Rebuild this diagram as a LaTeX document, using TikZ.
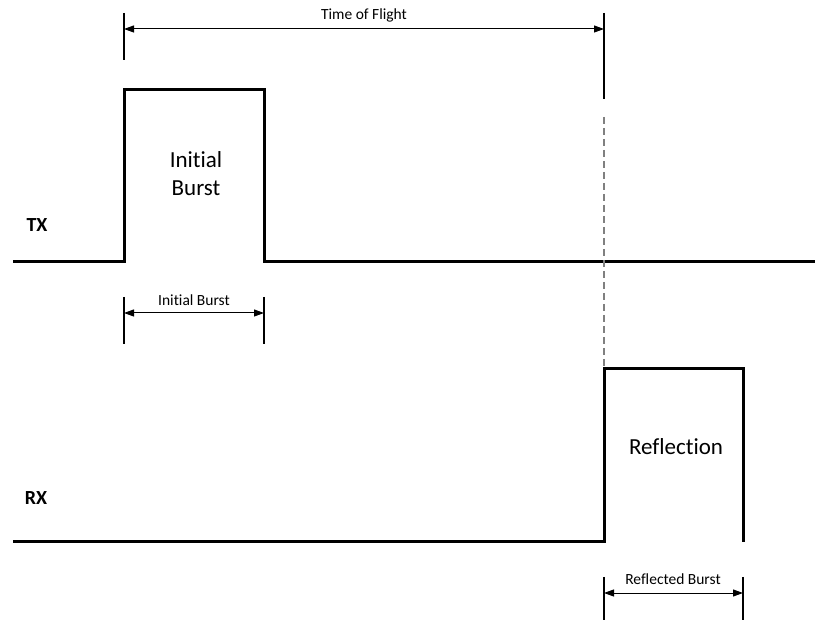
\documentclass[tikz,border=0pt]{standalone}
\usepackage{fontspec}
\setmainfont{Carlito}[RawFeature={-liga;-clig;-dlig}]
\usetikzlibrary{arrows.meta}
\begin{document}
\begin{tikzpicture}[x=1pt,y=-1pt,
  sig/.style={line width=3pt, line join=miter},
  tickline/.style={line width=2pt},
  dimline/.style={line width=1pt, {Triangle[length=10pt,width=7pt]}-{Triangle[length=10pt,width=7pt]}},
  guide/.style={line width=2pt, draw={rgb,255:red,128;green,128;blue,128}, dash pattern=on 7pt off 4pt},
  chan/.style={font=\fontsize{20}{24}\selectfont\bfseries, inner sep=0pt},
  big/.style={font=\fontsize{23}{28}\selectfont, align=center, inner sep=0pt},
  small/.style={font=\fontsize{15.5}{18}\selectfont, inner sep=0pt}]
\useasboundingbox (0,0) rectangle (815,620);
% TX signal
\coordinate (tx0) at (13,262);
\coordinate (tx1) at (124,262);
\coordinate (tx2) at (124,90);
\coordinate (tx3) at (264,90);
\coordinate (tx4) at (264,262);
\coordinate (tx5) at (815,262);
\draw[sig] (tx0) -- (tx1) -- (tx2) -- (tx3) -- (tx4) -- (tx5);
% RX signal
\coordinate (rx0) at (13,542);
\coordinate (rx1) at (604,542);
\coordinate (rx2) at (604,369);
\coordinate (rx3) at (743,369);
\coordinate (rx4) at (743,542);
\draw[sig] (rx0) -- (rx1) -- (rx2) -- (rx3) -- (rx4);
% guide
\coordinate (g0) at (604,117);
\draw[guide] (g0) -- (rx2);
% Time of flight dimension
\coordinate (tofLa) at (124,13);
\coordinate (tofLb) at (124,60);
\coordinate (tofRa) at (604,13);
\coordinate (tofRb) at (604,99);
\draw[tickline] (tofLa) -- (tofLb);
\draw[tickline] (tofRa) -- (tofRb);
\coordinate (tofA) at (124,29);
\coordinate (tofB) at (604,29);
\draw[dimline] (tofA) -- (tofB);
\node[small] (toflabel) at (364,15) {Time of Flight};
% Initial burst dimension
\coordinate (ibLa) at (124,297);
\coordinate (ibLb) at (124,344);
\coordinate (ibRa) at (264,297);
\coordinate (ibRb) at (264,344);
\draw[tickline] (ibLa) -- (ibLb);
\draw[tickline] (ibRa) -- (ibRb);
\coordinate (ibA) at (124,313);
\coordinate (ibB) at (264,313);
\draw[dimline] (ibA) -- (ibB);
\node[small] (iblabel) at (194,300) {Initial Burst};
% Reflected burst dimension
\coordinate (rbLa) at (604,577);
\coordinate (rbLb) at (604,622);
\coordinate (rbRa) at (743,577);
\coordinate (rbRb) at (743,622);
\draw[tickline] (rbLa) -- (rbLb);
\draw[tickline] (rbRa) -- (rbRb);
\coordinate (rbA) at (604,593);
\coordinate (rbB) at (743,593);
\draw[dimline] (rbA) -- (rbB);
\node[small] (rblabel) at (673,579) {Reflected Burst};
% labels
\node[chan] (tx) at (37,225) {TX};
\node[chan] (rx) at (36,498) {RX};
\node[big] (ib) at (196,174) {Initial\\Burst};
\node[big] (refl) at (676,447) {Reflection};
\end{tikzpicture}
\end{document}
